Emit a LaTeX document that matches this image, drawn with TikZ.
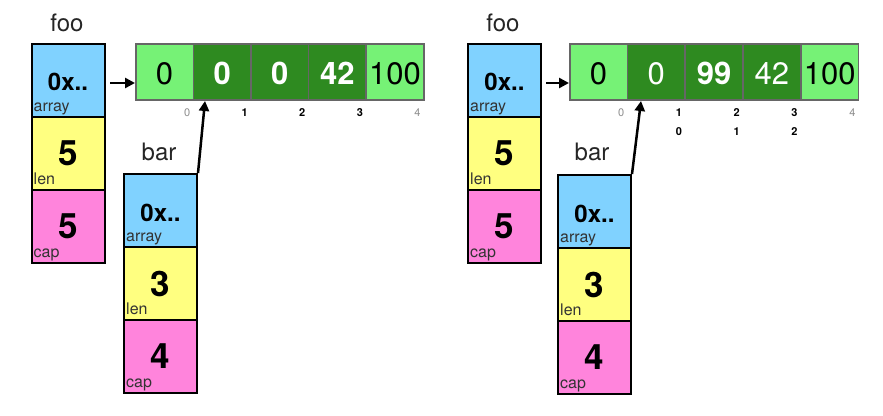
\documentclass[tikz,border=0pt]{standalone}
\usepackage{fontspec}
\setmainfont{TeX Gyre Heros}
\usetikzlibrary{arrows.meta,calc}
\definecolor{cblue}{HTML}{80D2FF}
\definecolor{cyellow}{HTML}{FFFF80}
\definecolor{cpink}{HTML}{FF84DC}
\definecolor{lgreen}{HTML}{76F276}
\definecolor{dgreen}{HTML}{2E8A20}
\definecolor{cellline}{HTML}{666666}
\begin{document}
\begin{tikzpicture}[x=1pt,y=-1pt,
  fld/.style={draw=black, line width=2pt, minimum width=73pt, minimum height=73pt, inner sep=0pt, anchor=north west},
  cell/.style={draw=cellline, line width=1.5pt, minimum width=57.6pt, minimum height=56pt, inner sep=0pt, anchor=north west},
  lg/.style={cell, fill=lgreen},
  dg/.style={cell, fill=dgreen},
  big/.style={font=\fontsize{35}{35}\selectfont\bfseries, inner sep=0pt},
  ptr/.style={font=\fontsize{24}{24}\selectfont\bfseries, inner sep=0pt},
  lab/.style={font=\fontsize{16}{16}\selectfont, text=black!80, inner sep=0pt, anchor=base west},
  title/.style={font=\fontsize{24}{24}\selectfont, text=black!85, inner sep=0pt, anchor=base},
  val/.style={font=\fontsize{31}{31}\selectfont, inner sep=0pt},
  valb/.style={font=\fontsize{31}{31}\selectfont\bfseries, inner sep=0pt, text=white},
  idx/.style={font=\fontsize{11}{11}\selectfont, text=black!45, inner sep=0pt},
  idxb/.style={font=\fontsize{11}{11}\selectfont\bfseries, inner sep=0pt},
  arrow/.style={line width=2.5pt, -{Triangle[length=10pt,width=10pt]}}
]
\useasboundingbox (0,0) rectangle (883,415);
\fill[white] (0,0) rectangle (883,415);

% ---------- left side ----------
\node[title] (fooL) at (67,31) {foo};
\node[fld, fill=cblue] (fLa) at (30.5,43) {};
\node[fld, fill=cyellow] (fLl) at (30.5,116) {};
\node[fld, fill=cpink] (fLc) at (30.5,189) {};
\node[ptr] at ($(fLa.center)+(0,1)$) {0x..};
\node[big] at (fLl.center) {5};
\node[big] at (fLc.center) {5};
\node[lab] at ($(fLa.south west)+(3,-7)$) {array};
\node[lab] at ($(fLl.south west)+(3,-7)$) {len};
\node[lab] at ($(fLc.south west)+(3,-7)$) {cap};

\node[lg] (L0) at (135,43) {};
\node[dg] (L1) at (192.6,43) {};
\node[dg] (L2) at (250.2,43) {};
\node[dg] (L3) at (307.8,43) {};
\node[lg] (L4) at (365.4,43) {};
\node[val] at ($(L0.center)+(0,2)$) {0};
\node[valb] at ($(L1.center)+(0,2)$) {0};
\node[valb] at ($(L2.center)+(0,2)$) {0};
\node[valb] at ($(L3.center)+(0,2)$) {42};
\node[val] at ($(L4.center)+(0,2)$) {100};
\node[idx]  at ($(L0.south east)+(-7,12)$) {0};
\node[idxb] at ($(L1.south east)+(-7,12)$) {1};
\node[idxb] at ($(L2.south east)+(-7,12)$) {2};
\node[idxb] at ($(L3.south east)+(-7,12)$) {3};
\node[idx]  at ($(L4.south east)+(-7,12)$) {4};

\node[title] (barL) at (159,160) {bar};
\node[fld, fill=cblue] (bLa) at (123,173) {};
\node[fld, fill=cyellow] (bLl) at (123,246) {};
\node[fld, fill=cpink] (bLc) at (123,319) {};
\node[ptr] at ($(bLa.center)+(0,2)$) {0x..};
\node[big] at (bLl.center) {3};
\node[big] at (bLc.center) {4};
\node[lab] at ($(bLa.south west)+(3,-7)$) {array};
\node[lab] at ($(bLl.south west)+(3,-7)$) {len};
\node[lab] at ($(bLc.south west)+(3,-7)$) {cap};

\coordinate (sL) at (110,83);
\draw[arrow] (sL) -- (sL -| L0.west);
\coordinate (tL) at (205,101);
\draw[arrow] (bLa.north east) -- (tL);

% ---------- right side ----------
\node[title] (fooR) at (503,31) {foo};
\node[fld, fill=cblue] (fRa) at (467,43) {};
\node[fld, fill=cyellow] (fRl) at (467,116) {};
\node[fld, fill=cpink] (fRc) at (467,189) {};
\node[ptr] at ($(fRa.center)+(0,1)$) {0x..};
\node[big] at (fRl.center) {5};
\node[big] at (fRc.center) {5};
\node[lab] at ($(fRa.south west)+(3,-7)$) {array};
\node[lab] at ($(fRl.south west)+(3,-7)$) {len};
\node[lab] at ($(fRc.south west)+(3,-7)$) {cap};

\node[lg] (R0) at (569,43) {};
\node[dg] (R1) at (626.8,43) {};
\node[dg] (R2) at (684.6,43) {};
\node[dg] (R3) at (742.4,43) {};
\node[lg] (R4) at (800.2,43) {};
\node[val] at ($(R0.center)+(0,2)$) {0};
\node[val, text=white] at ($(R1.center)+(0,2)$) {0};
\node[valb] at ($(R2.center)+(0,2)$) {99};
\node[val, text=white] at ($(R3.center)+(0,2)$) {42};
\node[val] at ($(R4.center)+(0,2)$) {100};
\node[idx]  at ($(R0.south east)+(-7,12)$) {0};
\node[idxb] at ($(R1.south east)+(-7,12)$) {1};
\node[idxb] at ($(R2.south east)+(-7,12)$) {2};
\node[idxb] at ($(R3.south east)+(-7,12)$) {3};
\node[idx]  at ($(R4.south east)+(-7,12)$) {4};
\node[idxb] at ($(R1.south east)+(-7,31)$) {0};
\node[idxb] at ($(R2.south east)+(-7,31)$) {1};
\node[idxb] at ($(R3.south east)+(-7,31)$) {2};

\node[title] (barR) at (592,160) {bar};
\node[fld, fill=cblue] (bRa) at (557,174) {};
\node[fld, fill=cyellow] (bRl) at (557,247) {};
\node[fld, fill=cpink] (bRc) at (557,320) {};
\node[ptr] at ($(bRa.center)+(0,2)$) {0x..};
\node[big] at (bRl.center) {3};
\node[big] at (bRc.center) {4};
\node[lab] at ($(bRa.south west)+(3,-7)$) {array};
\node[lab] at ($(bRl.south west)+(3,-7)$) {len};
\node[lab] at ($(bRc.south west)+(3,-7)$) {cap};

\coordinate (sR) at (546,83);
\draw[arrow] (sR) -- (sR -| R0.west);
\coordinate (tR) at (641,101);
\draw[arrow] (bRa.north east) -- (tR);
\end{tikzpicture}
\end{document}
